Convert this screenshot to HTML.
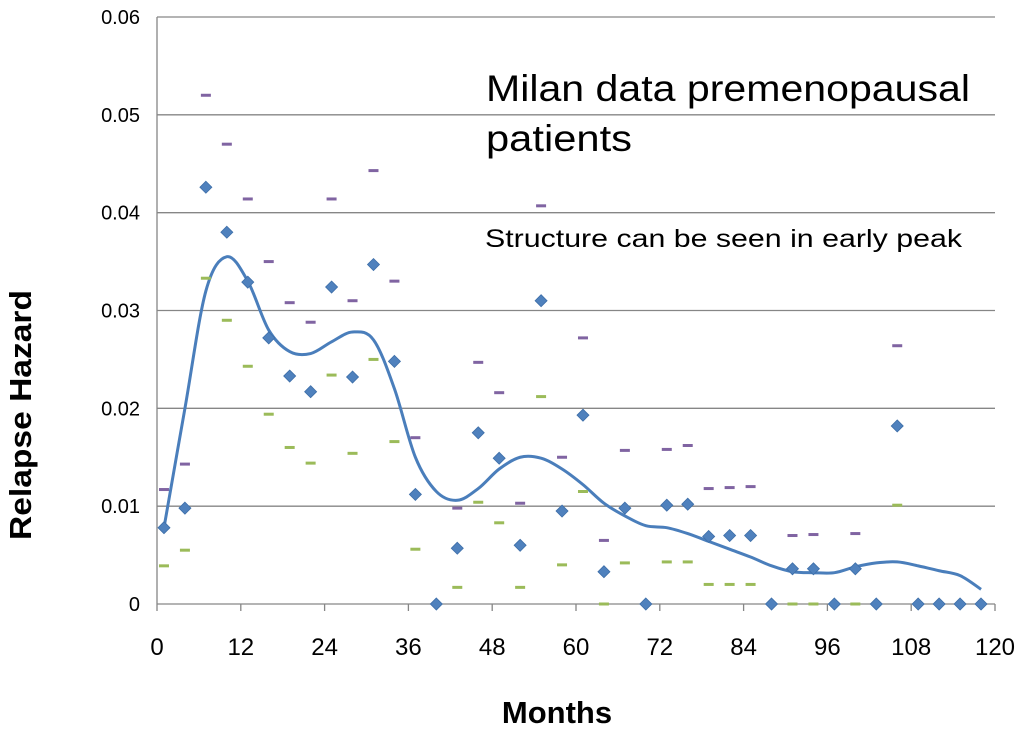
<!DOCTYPE html>
<html><head><meta charset="utf-8"><style>
body{margin:0;background:#fff}
svg{display:block;font-family:"Liberation Sans",sans-serif}
</style></head><body>
<svg id="chart" width="1024" height="730" viewBox="0 0 1024 730">
<g id="grid"></g><g id="axes"></g><g id="marks"></g>
<text x="486" y="101" font-size="37" textLength="484" lengthAdjust="spacingAndGlyphs" fill="#000">Milan data premenopausal</text>
<text x="486" y="151" font-size="37" textLength="146" lengthAdjust="spacingAndGlyphs" fill="#000">patients</text>
<text x="485" y="247" font-size="25" textLength="477" lengthAdjust="spacingAndGlyphs" fill="#000">Structure can be seen in early peak</text>
<text x="557" y="723" font-size="31" font-weight="bold" text-anchor="middle">Months</text>
<text transform="translate(31,415) rotate(-90)" font-size="31" font-weight="bold" text-anchor="middle" textLength="250" lengthAdjust="spacingAndGlyphs">Relapse Hazard</text>
</svg>
<script>
const months=[1,4,7,10,13,16,19,22,25,28,31,34,37,40,43,46,49,52,55,58,61,64,67,70,73,76,79,82,85,88,91,94,97,100,103,106,109,112,115,118];
const hazard=[0.0078,0.0098,0.0426,0.038,0.0329,0.0272,0.0233,0.0217,0.0324,0.0232,0.0347,0.0248,0.0112,0,0.0057,0.0175,0.0149,0.006,0.031,0.0095,0.0193,0.0033,0.0098,0,0.0101,0.0102,0.0069,0.007,0.007,0,0.0036,0.0036,0,0.0036,0,0.0182,0,0,0,0];
const upper=[0.0117,0.0143,0.052,0.047,0.0414,0.035,0.0308,0.0288,0.0414,0.031,0.0443,0.033,0.017,null,0.0098,0.0247,0.0216,0.0103,0.0407,0.015,0.0272,0.0065,0.0157,null,0.0158,0.0162,0.0118,0.0119,0.012,null,0.007,0.0071,null,0.0072,null,0.0264,null,null,null,null];
const lower=[0.0039,0.0055,0.0333,0.029,0.0243,0.0194,0.016,0.0144,0.0234,0.0154,0.025,0.0166,0.0056,null,0.0017,0.0104,0.0083,0.0017,0.0212,0.004,0.0115,0,0.0042,null,0.0043,0.0043,0.002,0.002,0.002,null,0,0,null,0,null,0.0101,null,null,null,null];
const smoothMonths=[1,4,7,10,13,16,19,22,25,28,31,34,37,40,43,46,49,52,55,58,61,64,67,70,73,76,79,82,85,88,91,94,97,100,103,106,109,112,115,118];
const smoothVals=[0.0078,0.02,0.032,0.0355,0.033,0.028,0.0258,0.0256,0.0268,0.0278,0.027,0.022,0.015,0.0115,0.0106,0.0118,0.0138,0.015,0.0149,0.0138,0.0122,0.0103,0.009,0.008,0.0078,0.0072,0.0064,0.0056,0.0048,0.0039,0.0033,0.0032,0.0032,0.0038,0.0042,0.0043,0.0039,0.0034,0.0029,0.0015];
const xTicks=[0,12,24,36,48,60,72,84,96,108,120];
const yTicks=[0,0.01,0.02,0.03,0.04,0.05,0.06];
const yLabels=["0","0.01","0.02","0.03","0.04","0.05","0.06"];
const X=m=>157+m*(995-157)/120;
const Y=v=>604-v*(604-17)/0.06;
const NS="http://www.w3.org/2000/svg";
function mk(tag,attrs,parent){const e=document.createElementNS(NS,tag);for(const k in attrs)e.setAttribute(k,attrs[k]);parent.appendChild(e);return e;}
const grid=document.getElementById('grid'),axes=document.getElementById('axes'),marks=document.getElementById('marks');
yTicks.forEach((t,i)=>{
 if(t>0){const l=mk('line',{x1:157,x2:995,y1:Y(t),y2:Y(t),stroke:'#868686','stroke-width':1.3},grid);
 
 }
 const tx=mk('text',{x:140,y:Y(t)+7,'font-size':20,'text-anchor':'end'},axes);tx.textContent=yLabels[i];
 
 
});
xTicks.forEach(t=>{
 const tx=mk('text',{x:X(t),y:655,'font-size':24,'text-anchor':'middle'},axes);tx.textContent=t;
 
 
 const tk=mk('line',{x1:X(t),x2:X(t),y1:604,y2:611,stroke:'#868686','stroke-width':1.3},axes);
 
 
});
const ya=mk('line',{x1:157,x2:157,y1:17,y2:604,stroke:'#868686','stroke-width':1.3},axes);


const xa=mk('line',{x1:157,x2:995,y1:604,y2:604,stroke:'#868686','stroke-width':1.3},axes);


const P=smoothMonths.map((m,i)=>[X(m),Y(smoothVals[i])]);
let d='M'+P[0][0]+','+P[0][1];
for(let i=0;i<P.length-1;i++){const p0=P[Math.max(0,i-1)],p1=P[i],p2=P[i+1],p3=P[Math.min(P.length-1,i+2)];
 d+=` C${p1[0]+(p2[0]-p0[0])/6},${p1[1]+(p2[1]-p0[1])/6} ${p2[0]-(p3[0]-p1[0])/6},${p2[1]-(p3[1]-p1[1])/6} ${p2[0]},${p2[1]}`;}
const curve=mk('path',{d:d,fill:'none',stroke:'#4a7ebb','stroke-width':3},marks);


months.forEach((m,i)=>{
 if(upper[i]!=null){const u=mk('line',{x1:X(m)-5,x2:X(m)+5,y1:Y(upper[i]),y2:Y(upper[i]),stroke:'#8064a2','stroke-width':3},marks);
  
  }
 if(lower[i]!=null){const lo=mk('line',{x1:X(m)-5,x2:X(m)+5,y1:Y(lower[i]),y2:Y(lower[i]),stroke:'#9bbb59','stroke-width':3},marks);
  
  }
});
months.forEach((m,i)=>{
 const x=X(m),y=Y(hazard[i]);
 const p=mk('polygon',{points:`${x},${y-6} ${x+6},${y} ${x},${y+6} ${x-6},${y}`,fill:'#4f81bd',stroke:'#3d6ea8','stroke-width':0.8},marks);
 
 
});
</script>
</body></html>
